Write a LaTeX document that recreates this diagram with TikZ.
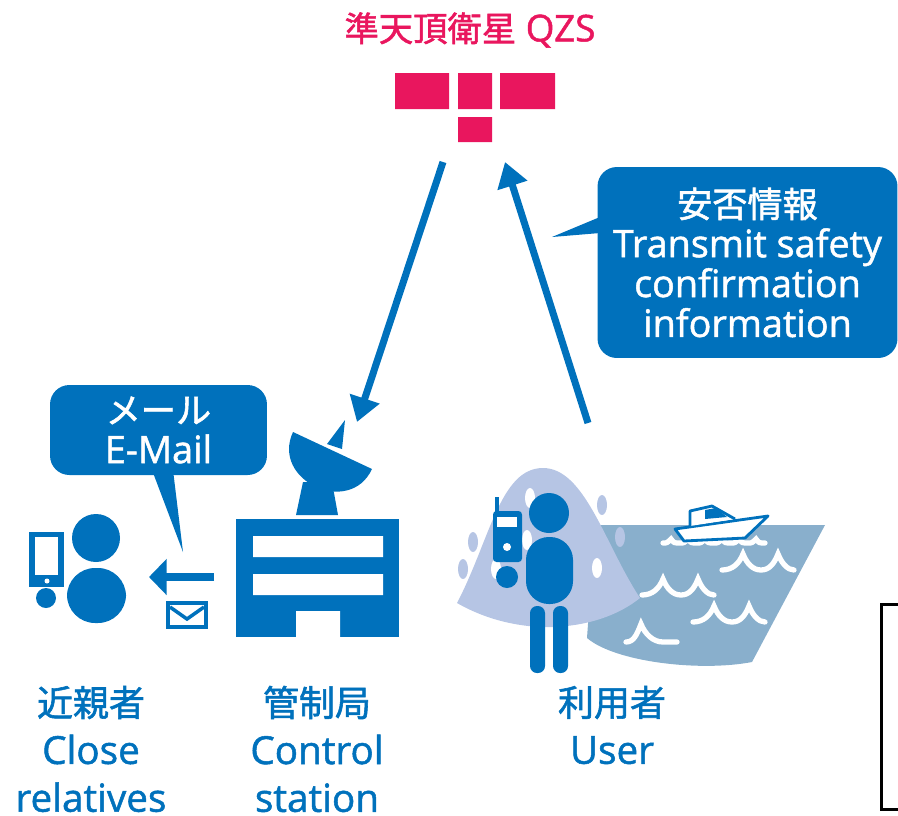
\documentclass[tikz,border=0pt]{standalone}
\usepackage{fontspec}
\setmainfont{Open Sans}[FakeBold=1.3]
\newfontfamily\jp{Noto Sans CJK JP}[Scale=0.93, FakeBold=1.6]
\usetikzlibrary{arrows.meta}

\definecolor{qzblue}{RGB}{0,113,188}
\definecolor{qzpink}{RGB}{233,22,94}
\definecolor{hill}{RGB}{182,197,228}
\definecolor{sea}{RGB}{137,175,204}

\begin{document}
\begin{tikzpicture}[x=0.02cm, y=-0.02cm,
    link/.style = {qzblue, line width=4pt, -{Triangle[length=14pt, width=17pt]}},
    bubble/.style = {fill=qzblue, rounded corners=11pt, text=white, align=center, inner sep=0pt,
        font=\fontsize{21.5}{22.7}\selectfont},
    caption/.style = {text=qzblue, align=center, font=\fontsize{22}{27.2}\selectfont},
    wave/.style = {white, line width=3pt, line cap=round}]
    \useasboundingbox (0,0) rectangle (898,815);

    % satellite
    \node[text=qzpink, font=\fontsize{21}{24}\selectfont] (title) at (470,30) {{\jp 準天頂衛星} QZS};
    \fill[qzpink] (395,73) rectangle (449,109) (458,73) rectangle (492,109)
        (500,73) rectangle (555,109) (458,117) rectangle (492,142);

    % speech bubbles
    \node[bubble, minimum width=6cm, minimum height=3.82cm] (info) at (747.5,262.5)
        {{\jp 安否情報}\\Transmit safety\\confirmation\\information};
    \fill[qzblue] (552,237) -- (600,217) -- (600,233) -- cycle;
    \node[bubble, minimum width=4.34cm, minimum height=1.8cm] (mail) at (158.5,430)
        {{\jp メール}\\E-Mail};
    \fill[qzblue] (152,470) -- (173,470) -- (183,552) -- cycle;

    % close relative with phone
    \fill[qzblue] (96,538) circle[radius=24];
    \fill[qzblue, rounded corners=16pt] (67,623) -- (67,568) -- (126,568) -- (126,623) -- cycle;
    \fill[qzblue] (29,532) rectangle (64,587);
    \fill[white] (35,537) rectangle (58,575);
    \fill[white] (47,581) circle[radius=2.5];
    \fill[qzblue] (46,598) circle[radius=10];

    % mail going out
    \coordinate (out) at (214,577);
    \coordinate (in) at (149,577);
    \draw[qzblue, line width=5pt, -{Triangle[length=10pt, width=20pt]}] (out) -- (in);
    \draw[qzblue, line width=2.2pt] (168,603) rectangle (206,627);
    \draw[qzblue, line width=2pt] (170,607) -- (187,619) -- (204,607);

    % control station
    \fill[qzblue] (236,519) rectangle (399,637);
    \fill[white] (253,536) rectangle (383,557) (253,574) rectangle (383,595) (296,611) rectangle (340,638);
    \fill[qzblue] (296,515) -- (338,515) -- (332,482) -- (303,482) -- cycle;
    \fill[qzblue] (293,432) .. controls (270.5,480.3) and (349.5,517.3) .. (372,469) -- cycle;
    \fill[qzblue] (327,444) -- (342,449) -- (345,420) -- cycle;

    % sea and hill
    \fill[sea] (595,525) -- (825,525) -- (752,662) .. controls (700,672) and (615,662) .. (587,638) -- cycle;
    \fill[hill] (457,603) .. controls (490,540) and (500,468) .. (543,468)
        .. controls (585,468) and (605,545) .. (640,598)
        .. controls (610,622) and (570,628) .. (540,627)
        .. controls (505,625) and (478,615) .. (457,603) -- cycle;
    \foreach \x/\y in {602/505, 473/542, 463/569, 620/537}
        \fill[hill] (\x,\y) ellipse[x radius=5, y radius=10];
    \foreach \x/\y in {530/498, 527/540, 496/569, 597/568}
        \fill[white] (\x,\y) ellipse[x radius=5, y radius=10];

    % waves
    \foreach \x/\y in {722/570, 642/595, 693/622}
        \draw[wave] (\x,\y) .. controls +(10,0) and +(-4,10) .. ++(21,-16)
            .. controls +(4,10) and +(-8,0) .. ++(18,16)
            .. controls +(8,0) and +(-4,10) .. ++(17,-16)
            .. controls +(4,10) and +(-6,0) .. ++(16,16);
    \draw[wave] (626,642) .. controls +(8,0) and +(-4,10) .. ++(15,-18)
        .. controls +(4,10) and +(-10,0) .. ++(22,18) -- ++(14,0);
    \draw[wave] (663,543) .. controls +(4,0) .. ++(8,-4) .. controls +(3,4) .. ++(9,4)
        .. controls +(4,0) .. ++(8,-4) .. controls +(3,4) .. ++(9,4)
        .. controls +(4,0) .. ++(8,-4) .. controls +(3,4) .. ++(9,4)
        .. controls +(4,0) .. ++(8,-4) .. controls +(3,4) .. ++(9,4)
        .. controls +(4,0) .. ++(8,-4) .. controls +(3,4) .. ++(9,4)
        .. controls +(4,0) .. ++(8,-4) .. controls +(3,4) .. ++(9,4);

    % boat
    \draw[qzblue, line width=1.6pt, fill=white, line join=round]
        (675,529) -- (684,541) -- (745,538) -- (768,516) -- cycle;
    \draw[qzblue, line width=1.6pt, fill=white, line join=round]
        (690,526) -- (690,511) -- (712,506) -- (735,519);
    \fill[qzblue] (705,510) -- (716,508) -- (727,517) -- (705,519) -- cycle;

    % user with radio
    \fill[qzblue] (549,513) circle[radius=20];
    \fill[qzblue, rounded corners=13pt] (526,537) rectangle (573,604);
    \fill[qzblue, rounded corners=4pt] (530,606) rectangle (545,673) (553,606) rectangle (568,673);
    \draw[qzblue, line width=2.3pt] (497,497) -- (497,512);
    \fill[qzblue, rounded corners=2pt] (493,511) rectangle (522,562);
    \fill[white] (497,517) rectangle (517,527);
    \fill[white] (507,547) circle[radius=4];
    \fill[qzblue] (507,577) circle[radius=11];

    % uplink and downlink
    \coordinate (sat-tx) at (443,162);
    \coordinate (dish) at (357,422);
    \coordinate (user-tx) at (588,423);
    \coordinate (sat-rx) at (505,162);
    \draw[link] (sat-tx) -- (dish);
    \draw[link] (user-tx) -- (sat-rx);

    % captions
    \node[caption] (relatives) at (91,749) {{\jp 近親者}\\Close\\relatives};
    \node[caption] (station) at (317,749) {{\jp 管制局}\\Control\\station};
    \node[caption] (user) at (612,725) {{\jp 利用者}\\User};

    \draw[line width=1.7pt] (900,604) -- (881,604) -- (881,809) -- (900,809);
\end{tikzpicture}
\end{document}
